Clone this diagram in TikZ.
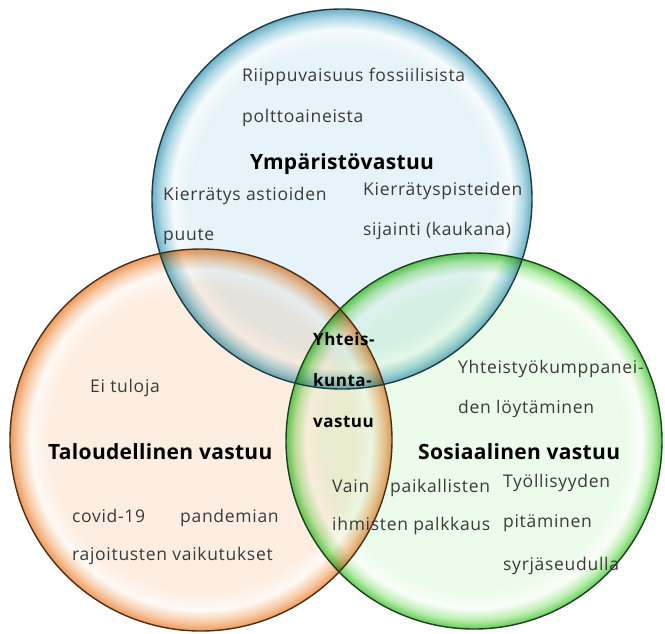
\documentclass[tikz,border=0pt]{standalone}
\usepackage{fontspec}
\setmainfont{Open Sans}
\newfontfamily\lblfont[LetterSpace=4]{Open Sans}
\newfontfamily\headfont[LetterSpace=1.5]{Open Sans}
\newfontfamily\midfont[LetterSpace=3]{Open Sans}
\definecolor{bluein}{HTML}{E6F3F8}
\definecolor{bluemid}{HTML}{B2DAE7}
\definecolor{bluerim}{HTML}{6AAFC5}
\definecolor{orangein}{HTML}{FEEEE2}
\definecolor{orangemid}{HTML}{F8CCA9}
\definecolor{orangerim}{HTML}{EE9A5C}
\definecolor{greenin}{HTML}{ECFCEA}
\definecolor{greenmid}{HTML}{BDEEB2}
\definecolor{greenrim}{HTML}{62CF55}
\colorlet{bluehi}{white!65!bluein}
\colorlet{orangehi}{white!65!orangein}
\colorlet{greenhi}{white!65!greenin}
\definecolor{blueline}{HTML}{1E3A44}
\definecolor{orangeline}{HTML}{4A2E18}
\definecolor{greenline}{HTML}{1F4020}
\definecolor{txt}{HTML}{3A3A3A}
\pgfdeclareradialshading{blueglow}{\pgfpoint{0bp}{0bp}}{color(0bp)=(bluein); color(20bp)=(bluein); color(22.3bp)=(bluehi); color(23.8bp)=(bluemid); color(25bp)=(bluerim); color(50bp)=(bluerim)}
\pgfdeclareradialshading{orangeglow}{\pgfpoint{0bp}{0bp}}{color(0bp)=(orangein); color(20bp)=(orangein); color(22.3bp)=(orangehi); color(23.8bp)=(orangemid); color(25bp)=(orangerim); color(50bp)=(orangerim)}
\pgfdeclareradialshading{greenglow}{\pgfpoint{0bp}{0bp}}{color(0bp)=(greenin); color(20bp)=(greenin); color(22.3bp)=(greenhi); color(23.8bp)=(greenmid); color(25bp)=(greenrim); color(50bp)=(greenrim)}
\tikzset{
  lbl/.style={anchor=base west, inner sep=0pt, text=txt, font=\lblfont\fontsize{17.5}{20}\selectfont},
  head/.style={anchor=base west, inner sep=0pt, text=black, font=\headfont\fontsize{21}{24}\selectfont\bfseries},
  mid/.style={anchor=base west, inner sep=0pt, text=black, font=\midfont\fontsize{17}{20}\selectfont\bfseries},
  ring/.style={line width=1.4pt},
}
\begin{document}
\begin{tikzpicture}[x=1pt,y=-1pt]
\useasboundingbox (0,0) rectangle (665,633);
\fill[white] (0,0) rectangle (665,633);
% circles
\coordinate (cb) at (342,199);
\coordinate (co) at (201,440);
\coordinate (cg) at (474,441);
\shade[shading=orangeglow, blend mode=multiply] (co) circle[radius=191];
\shade[shading=greenglow, blend mode=multiply] (cg) circle[radius=188];
\shade[shading=blueglow, blend mode=multiply] (cb) circle[radius=190];
\draw[ring, draw=orangeline] (co) circle[radius=191];
\draw[ring, draw=greenline] (cg) circle[radius=188];
\draw[ring, draw=blueline] (cb) circle[radius=190];
% blue texts
\node[lbl] (t1) at (242,81) {Riippuvaisuus fossiilisista};
\node[lbl] (t2) at (242,122) {polttoaineista};
\node[head] (b1) at (250,169) {Ympäristövastuu};
\node[lbl] (t3) at (163,200) {Kierrätys astioiden};
\node[lbl] (t4) at (163,240) {puute};
\node[lbl] (t5) at (363,195) {Kierrätyspisteiden};
\node[lbl] (t6) at (363,235) {sijainti (kaukana)};
% orange texts
\node[lbl] (t7) at (90,392) {Ei tuloja};
\node[head] (b2) at (48,459) {Taloudellinen vastuu};
\node[lbl] (t8) at (72,522) {covid-19};
\node[lbl] (t9) at (180,522) {pandemian};
\node[lbl] (t10) at (72,560) {rajoitusten vaikutukset};
% green texts
\node[lbl] (t11) at (458,373) {Yhteistyökumppanei-};
\node[lbl] (t12) at (458,413) {den löytäminen};
\node[head] (b3) at (418,459) {Sosiaalinen vastuu};
\node[lbl] (t13) at (503,487) {Työllisyyden};
\node[lbl] (t14) at (503,527) {pitäminen};
\node[lbl] (t15) at (503,570) {syrjäseudulla};
\node[lbl] (t16) at (332,492) {Vain};
\node[lbl] (t17) at (390,492) {paikallisten};
\node[lbl] (t18) at (332,530) {ihmisten palkkaus};
% centre
\node[mid] (c1) at (313,345) {Yhteis-};
\node[mid] (c2) at (313,386) {kunta-};
\node[mid] (c3) at (313,427) {vastuu};
\end{tikzpicture}
\end{document}
